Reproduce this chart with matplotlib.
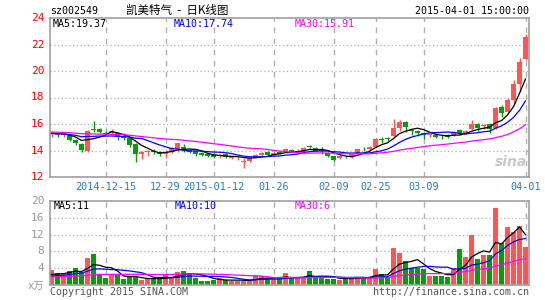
import numpy as np
import pandas as pd
import matplotlib
matplotlib.use("Agg")
import matplotlib.pyplot as plt

plt.rcParams['font.family'] = ['DejaVu Sans Mono', 'Noto Sans CJK SC']

# trading days 2014-12-02 .. 2015-04-01
dates = pd.bdate_range("2014-12-02", "2015-04-01")
holidays = pd.to_datetime(["2015-01-01", "2015-01-02", "2015-02-18", "2015-02-19",
                           "2015-02-20", "2015-02-23", "2015-02-24"])
dates = dates[~dates.isin(holidays)]

opens = [15.25, 15.35, 15.15, 15.15, 14.8, 14.5, 13.95, 15.65, 15.65, 15.35,
         15.35, 15.35, 15.05, 14.95, 14.5, 13.75, 13.85, 14.0, 13.9, 13.75,
         13.9, 14.1, 14.3, 14.05, 13.95, 13.8, 13.72, 13.65, 13.62, 13.72,
         13.45, 13.4, 13.1, 13.2, 13.45, 13.65, 13.85, 13.65, 13.92, 13.9,
         14.05, 13.92, 13.92, 14.3, 14.17, 14.02, 13.8, 13.55, 13.4, 13.52,
         13.5, 13.72, 14.12, 14.1, 14.3, 14.82, 14.9, 15.08, 15.72, 16.15,
         15.5, 15.5, 15.3, 15.15, 15.2, 15.1, 15.2, 15.18, 15.55, 15.3,
         15.6, 16.0, 15.85, 16.0, 15.7, 17.3, 16.9, 17.8, 19.0, 20.9]
highs = [15.45, 15.4, 15.3, 15.2, 14.9, 14.6, 15.55, 16.2, 15.7, 15.45,
         15.6, 15.4, 15.3, 15.0, 14.6, 14.0, 14.05, 14.1, 13.95, 14.0,
         14.3, 14.6, 14.5, 14.1, 14.0, 13.85, 13.8, 13.7, 13.75, 13.8,
         13.6, 13.5, 13.45, 13.5, 13.7, 13.9, 13.95, 13.9, 14.0, 14.2,
         14.1, 14.1, 14.3, 14.4, 14.25, 14.3, 13.85, 13.6, 13.65, 13.6,
         13.75, 14.15, 14.3, 14.35, 14.95, 15.0, 15.0, 16.35, 16.3, 16.2,
         15.65, 15.55, 15.35, 15.25, 15.25, 15.2, 15.25, 15.45, 15.6, 15.55,
         16.3, 16.1, 16.0, 16.05, 17.25, 17.4, 17.95, 19.3, 21.0, 22.8]
lows = [15.0, 15.05, 15.05, 14.7, 14.4, 13.9, 13.85, 15.4, 15.3, 15.15,
        15.2, 14.8, 14.8, 14.3, 13.1, 13.35, 13.6, 13.75, 13.6, 13.4,
        13.8, 13.9, 13.9, 13.8, 13.6, 13.55, 13.5, 13.45, 13.45, 13.45,
        13.35, 13.25, 12.7, 13.1, 13.4, 13.55, 13.6, 13.6, 13.7, 13.85,
        13.85, 13.8, 13.75, 14.2, 13.95, 13.75, 13.5, 13.2, 13.35, 13.4,
        13.45, 13.7, 13.95, 14.05, 14.25, 14.55, 14.7, 15.0, 15.5, 15.4,
        15.2, 15.1, 14.9, 15.0, 14.95, 14.9, 14.95, 15.1, 15.15, 15.25,
        15.55, 15.5, 15.6, 15.3, 15.6, 16.5, 16.8, 17.5, 18.4, 20.8]
closes = [15.35, 15.2, 15.2, 14.8, 14.55, 14.05, 15.5, 15.55, 15.4, 15.25,
          15.45, 15.0, 14.95, 14.45, 13.7, 13.85, 13.95, 13.85, 13.75, 13.85,
          14.2, 14.55, 14.05, 13.9, 13.75, 13.65, 13.6, 13.5, 13.66, 13.5,
          13.55, 13.45, 13.2, 13.42, 13.65, 13.82, 13.68, 13.84, 13.75, 14.1,
          13.9, 13.96, 14.17, 14.27, 14.0, 13.98, 13.6, 13.3, 13.55, 13.48,
          13.72, 14.12, 14.08, 14.3, 14.88, 14.78, 14.86, 15.7, 16.15, 15.8,
          15.46, 15.3, 15.18, 15.2, 15.02, 15.06, 15.05, 15.42, 15.3, 15.5,
          16.0, 15.7, 15.9, 15.65, 17.2, 16.85, 17.8, 19.05, 20.7, 22.6]
volumes = [3.6, 2.8, 2.8, 3.4, 4.0, 3.2, 6.4, 7.4, 2.6, 1.7,
           2.6, 2.5, 1.5, 1.9, 1.9, 1.2, 1.4, 1.4, 1.9, 2.3,
           1.9, 3.2, 3.4, 2.9, 1.8, 1.1, 1.1, 1.2, 1.6, 1.2,
           0.9, 1.1, 1.1, 1.3, 2.3, 2.1, 1.5, 1.6, 1.6, 2.8,
           1.6, 1.6, 1.9, 3.4, 1.9, 1.9, 1.5, 1.5, 1.2, 1.9,
           1.6, 1.9, 1.9, 2.0, 3.8, 2.65, 1.9, 8.9, 7.7, 5.7,
           4.0, 4.0, 3.8, 2.25, 2.2, 2.2, 1.9, 4.0, 8.6, 6.75,
           12.0, 6.2, 7.1, 7.1, 18.3, 10.1, 13.8, 12.7, 14.1, 9.1]

# closes / volumes of the 29 sessions before the window (for the moving averages)
prior_closes = [15.4, 15.5, 15.5, 15.6, 15.4, 15.8, 15.8, 15.7, 15.5, 15.7,
                15.5, 15.3, 15.6, 15.3, 15.2, 15.4, 15.3, 15.1, 15.2, 15.0,
                15.2, 15.4, 15.3, 15.1, 15.2, 15.3, 15.4, 15.2, 15.3]
prior_volumes = [1.8, 2.0, 2.2, 1.7, 1.9, 2.1, 2.4, 1.6, 1.8, 2.0,
                 1.9, 2.3, 1.7, 1.5, 1.8, 2.0, 2.2, 1.6, 1.9, 1.7,
                 1.8, 2.1, 1.5, 1.6, 1.9, 2.2, 2.5, 2.0, 2.4]

tick_dates = ["2014-12-15", "2014-12-29", "2015-01-12", "2015-01-26",
              "2015-02-09", "2015-02-25", "2015-03-09", "2015-04-01"]
tick_labels = ["2014-12-15", "12-29", "2015-01-12", "01-26",
               "02-09", "02-25", "03-09", "04-01"]
price_ticks = [12, 14, 16, 18, 20, 22, 24]
vol_ticks = [4, 8, 12, 16, 20]
price_legend = ["MA5:19.37", "MA10:17.74", "MA30:15.91"]
vol_legend = ["MA5:11", "MA10:10", "MA30:6"]

RED = "#ff5555"
GREEN = "#00a000"
GRAY = "#a0a0a0"
MA_COLORS = ["black", "#0000ff", "#ff00ff"]

n = len(closes)
x = np.arange(n)
o = np.array(opens)
c = np.array(closes)
colors = [RED if cc >= oo else GREEN for oo, cc in zip(o, c)]
tick_pos = [dates.get_loc(pd.Timestamp(d)) for d in tick_dates]

all_c = pd.Series(prior_closes + closes)
all_v = pd.Series(prior_volumes + volumes)
k = len(prior_closes)
price_ma = [all_c.rolling(w).mean().values[k:] for w in (5, 10, 30)]
vol_ma = [all_v.rolling(w).mean().values[k:] for w in (5, 10, 30)]

fig = plt.figure(figsize=(5.45, 3.0), dpi=100)
ax = fig.add_axes([50 / 545, 1 - 177 / 300, 479 / 545, 159 / 300])
axv = fig.add_axes([50 / 545, 1 - 285.2 / 300, 479 / 545, 84.5 / 300])

for a in (ax, axv):
    a.set_xlim(-0.25, 79.58)
    for s in a.spines.values():
        s.set_color(GRAY)
        s.set_linewidth(1.2)
    a.set_xticks([])
    a.set_yticks([])
    for t in tick_pos:
        a.axvline(t, color="#b0b0b0", lw=1, ls=(0, (4, 4)), zorder=0)

ax.set_ylim(12, 24)
for v in price_ticks[1:-1]:
    ax.axhline(v, color="#b0b0b0", lw=0.9, ls=(0, (1, 2)), zorder=0)
axv.set_ylim(0, 20)
for v in vol_ticks[:-1]:
    axv.axhline(v, color="#b0b0b0", lw=0.9, ls=(0, (1, 2)), zorder=0)

# candles
ax.vlines(x, lows, highs, colors=colors, lw=1, zorder=2)
body = np.maximum(np.abs(c - o), 0.06)
ax.bar(x, body, bottom=np.minimum(o, c), width=0.8, color=colors, lw=0, zorder=3)
for ma, col in zip(price_ma, MA_COLORS):
    ax.plot(x, ma, color=col, lw=0.9, zorder=4)

axv.bar(x, volumes, width=0.8, color=colors, lw=0, zorder=2)
for ma, col in zip(vol_ma, MA_COLORS):
    axv.plot(x, ma, color=col, lw=0.9, zorder=4)

# axis labels
for v in price_ticks:
    ax.text(-0.012, v, str(v), transform=ax.get_yaxis_transform(), ha="right",
            va="center", color="red", fontsize=8)
for v in vol_ticks:
    axv.text(-0.012, v, str(v), transform=axv.get_yaxis_transform(), ha="right",
             va="center", color="#999999", fontsize=8)
axv.text(-0.012, -0.3, "x万", transform=axv.get_yaxis_transform(), ha="right",
         va="center", color="#999999", fontsize=7.5)
for t, lab in zip(tick_pos, tick_labels):
    ax.text(t, -0.06, lab, transform=ax.get_xaxis_transform(), ha="center",
            va="center", color="#1f7ec8", fontsize=7.3)

# legends
for xp, lab, col in zip([53, 174, 295], price_legend, MA_COLORS):
    fig.text(xp / 545, 1 - 24 / 300, lab, color=col, fontsize=7.2, va="center")
for xp, lab, col in zip([54, 175, 295], vol_legend, MA_COLORS):
    fig.text(xp / 545, 1 - 206 / 300, lab, color=col, fontsize=7.2, va="center")

# header / footer
fig.text(50 / 545, 1 - 11 / 300, "sz002549", fontsize=7.2, va="center")
fig.text(177 / 545, 1 - 10 / 300, "凯美特气  -  日K线图", fontsize=8.3, va="center",
         ha="center", family=['Noto Sans CJK SC', 'DejaVu Sans'])
fig.text(529 / 545, 1 - 11 / 300, "2015-04-01 15:00:00", fontsize=7.2,
         va="center", ha="right")
fig.text(50 / 545, 1 - 292 / 300, "Copyright 2015 SINA.COM", fontsize=7.2,
         va="center", color="#555555")
fig.text(529 / 545, 1 - 292 / 300, "http://finance.sina.com.cn", fontsize=7.2,
         va="center", ha="right", color="#555555")
fig.text(511 / 545, 1 - 162 / 300, "sina", fontsize=10, va="center", ha="center",
         color="#c8c8c8", style="italic", weight="bold", family="DejaVu Sans")

fig.savefig("out.png", dpi=100)
